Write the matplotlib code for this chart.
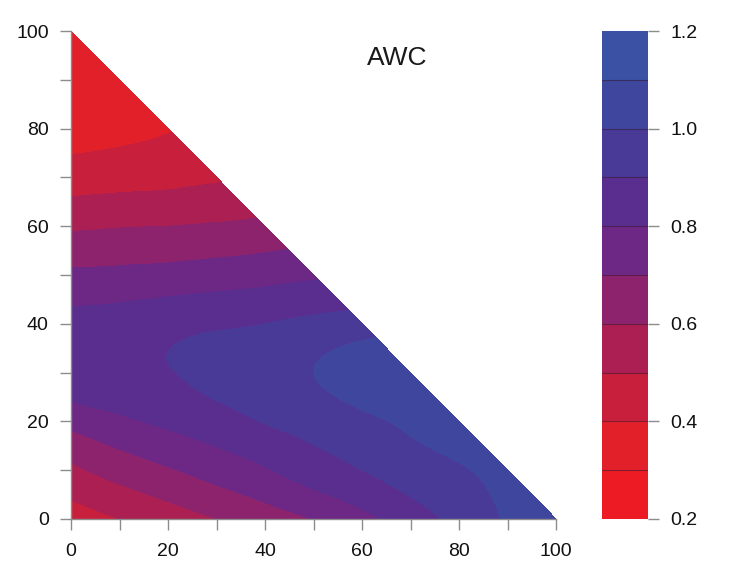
import numpy as np
import matplotlib
matplotlib.use('Agg')
import matplotlib.pyplot as plt
import matplotlib.tri as mtri
from matplotlib.colors import ListedColormap, BoundaryNorm

plt.rcParams['font.family'] = ['Liberation Sans', 'DejaVu Sans']

# grid positions (%) along x, one row of AWC values per y level
x_pct = [0, 10, 20, 30, 40, 50, 60, 70, 80, 90, 100]
y_pct = [0, 10, 20, 30, 40, 50, 60, 70, 80, 90, 100]

awc_y0 = [0.45, 0.50, 0.55, 0.60, 0.65, 0.70, 0.77, 0.85, 0.93, 1.01, 1.06]
awc_y10 = [0.58, 0.64, 0.69, 0.74, 0.79, 0.85, 0.90, 0.95, 0.99, 1.04]
awc_y20 = [0.73, 0.78, 0.82, 0.86, 0.905, 0.94, 0.98, 1.02, 1.06]
awc_y30 = [0.87, 0.878, 0.895, 0.93, 0.96, 1.00, 1.04, 1.07]
awc_y40 = [0.84, 0.85, 0.868, 0.885, 0.90, 0.925, 0.95]
awc_y50 = [0.72, 0.725, 0.735, 0.75, 0.765, 0.785]
awc_y60 = [0.585, 0.595, 0.60, 0.61, 0.625]
awc_y70 = [0.45, 0.46, 0.47, 0.487]
awc_y80 = [0.36, 0.375, 0.395]
awc_y90 = [0.32, 0.33]
awc_y100 = [0.31]

awc_rows = [awc_y0, awc_y10, awc_y20, awc_y30, awc_y40, awc_y50,
            awc_y60, awc_y70, awc_y80, awc_y90, awc_y100]

levels = [0.2, 0.3, 0.4, 0.5, 0.6, 0.7, 0.8, 0.9, 1.0, 1.1, 1.2]
cbar_ticks = [0.2, 0.4, 0.6, 0.8, 1.0, 1.2]
axis_ticks = [0, 20, 40, 60, 80, 100]

band_colors = ['#ED1C24', '#E2202A', '#C8203C', '#AC1F52', '#8C236C',
               '#6D2886', '#5A2E8F', '#4A3A97', '#3F469E', '#3A51A4']

# -----------------------------------------------------------------------
xs, ys, zs = [], [], []
for yv, row in zip(y_pct, awc_rows):
    for xv, zv in zip(x_pct, row):
        xs.append(xv)
        ys.append(yv)
        zs.append(zv)
xs = np.array(xs, float)
ys = np.array(ys, float)
zs = np.array(zs, float)

tri = mtri.Triangulation(xs, ys)
interp = mtri.CubicTriInterpolator(tri, zs)
refiner = mtri.UniformTriRefiner(tri)
tri_f, z_f = refiner.refine_field(zs, triinterpolator=interp, subdiv=4)

cmap = ListedColormap(band_colors)
norm = BoundaryNorm(levels, cmap.N)

fig = plt.figure(figsize=(7.5, 5.83), dpi=100)
ax = fig.add_axes([0.0947, 0.1098, 0.6467, 0.837])
cs = ax.tricontourf(tri_f, z_f, levels=levels, cmap=cmap, norm=norm)

ax.set_xlim(0, 100)
ax.set_ylim(0, 100)
ax.set_xticks(axis_ticks)
ax.set_yticks(axis_ticks)
ax.set_xticks(range(10, 100, 20), minor=True)
ax.set_yticks(range(10, 100, 20), minor=True)
for side in ['top', 'right']:
    ax.spines[side].set_visible(False)
for side in ['left', 'bottom']:
    ax.spines[side].set_color('#8c8c8c')
    ax.spines[side].set_linewidth(1.0)
ax.tick_params(which='both', direction='out', length=8, width=1,
               color='#8c8c8c', labelsize=14, labelcolor='#111111')
ax.tick_params(axis='x', which='both', pad=9)
ax.tick_params(axis='y', which='both', pad=8)

ax.text(67.2, 94.5, 'AWC', ha='center', va='center', fontsize=19, color='#1a1a1a')

# colour key
cax = fig.add_axes([0.8027, 0.1098, 0.0613, 0.837])
cbar = fig.colorbar(cs, cax=cax, ticks=cbar_ticks)
cbar.outline.set_visible(False)
for lv in levels[1:-1]:
    cax.axhline(lv, color='#301a30', linewidth=0.8, alpha=0.55)
cax.set_yticklabels(['%.1f' % t for t in cbar_ticks])
cax.tick_params(direction='out', length=8, width=1, color='#8c8c8c',
                labelsize=14, labelcolor='#111111', pad=8)
cax.minorticks_off()

fig.savefig('out.png', dpi=100)
